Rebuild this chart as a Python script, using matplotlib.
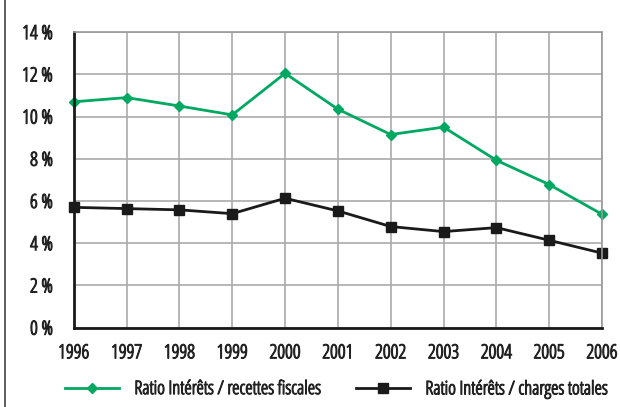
import matplotlib
matplotlib.use('Agg')
import matplotlib.pyplot as plt
import matplotlib.patheffects as pe
from matplotlib.lines import Line2D

plt.rcParams['font.family'] = ['Open Sans', 'DejaVu Sans']
plt.rcParams['font.stretch'] = 'condensed'
plt.rcParams['font.weight'] = 'light'

years = ['1996', '1997', '1998', '1999', '2000', '2001', '2002', '2003', '2004', '2005', '2006']
ratio_fiscal = [10.7, 10.9, 10.5, 10.08, 12.05, 10.35, 9.15, 9.5, 7.93, 6.78, 5.37]
ratio_charges = [5.7, 5.64, 5.58, 5.4, 6.13, 5.53, 4.79, 4.55, 4.74, 4.14, 3.53]
y_ticks = [0, 2, 4, 6, 8, 10, 12, 14]

green = '#00a862'
txt = '#222222'
bold = [pe.withStroke(linewidth=0.8, foreground=txt)]
x = list(range(len(years)))

fig = plt.figure(figsize=(6.2, 4.07), dpi=100)
ax = fig.add_axes([0.119, 0.195, 0.852, 0.726])

l1, = ax.plot(x, ratio_fiscal, color=green, lw=2.0, marker='D', ms=5)
l2, = ax.plot(x, ratio_charges, color='#1a1a1a', lw=2.0, marker='s', ms=7)

ax.set_xlim(0, 10)
ax.set_ylim(0, 14)
ax.set_xticks(x)
ax.set_xticklabels(years)
ax.set_yticks(y_ticks)
ax.set_yticklabels([f'{v} %' for v in y_ticks])
ax.tick_params(length=0, labelsize=14, colors=txt)
ax.tick_params(axis='x', pad=12)
ax.tick_params(axis='y', pad=15)
for t in ax.get_xticklabels() + ax.get_yticklabels():
    t.set_path_effects(bold)
ax.grid(True, color='#aaaaaa', lw=1.2)
ax.set_axisbelow(True)
for s in ['top', 'right']:
    ax.spines[s].set_color('#999999')
    ax.spines[s].set_linewidth(1.2)
for s in ['left', 'bottom']:
    ax.spines[s].set_color('#1a1a1a')
    ax.spines[s].set_linewidth(2.0)
for l in ax.lines:
    l.set_clip_on(False)

leg_kw = dict(loc='center left', frameon=False, fontsize=13.5, handlelength=2.9,
              handletextpad=0.8, borderpad=0, borderaxespad=0)
lg1 = fig.legend([l1], ['Ratio Intérêts / recettes fiscales'], bbox_to_anchor=(65 / 620, 0.044), **leg_kw)
lg2 = fig.legend([l2], ['Ratio Intérêts / charges totales'], bbox_to_anchor=(356 / 620, 0.044), **leg_kw)
for lg in (lg1, lg2):
    for t in lg.get_texts():
        t.set_color(txt)
        t.set_path_effects(bold)

fig.add_artist(Line2D([5 / 620, 5 / 620], [0, 1], color='#444444', lw=1.2))

fig.savefig('out.png', dpi=100)
